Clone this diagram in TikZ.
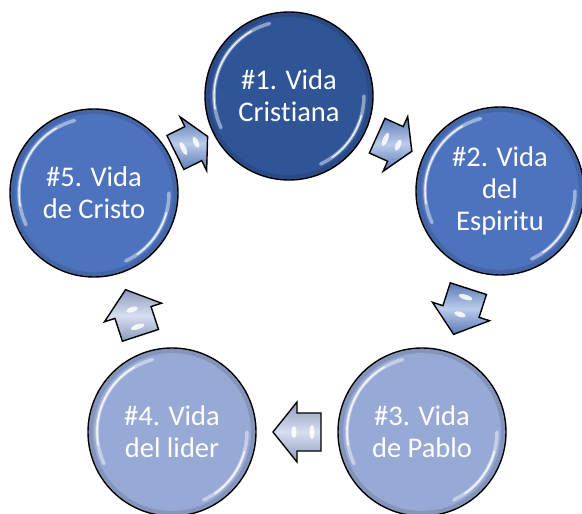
\documentclass[tikz,border=0pt]{standalone}
\usepackage{fontspec}
\setmainfont[Ligatures={NoCommon,NoRare,NoContextual}]{Carlito}
\usetikzlibrary{calc}
\definecolor{cdark}{RGB}{47,85,151}
\definecolor{cmid}{RGB}{78,115,190}
\definecolor{clight}{RGB}{151,169,213}
\definecolor{amid}{RGB}{104,142,212}
\definecolor{alight}{RGB}{166,182,222}
\tikzset{
  bubble/.style={circle, draw=black, line width=1.4pt, minimum size=168pt, inner sep=0pt,
    text=white, align=center, font=\fontsize{28.5}{32}\selectfont},
  bubbletext/.style={text=white, align=center, font=\fontsize{28.5}{32}\selectfont},
  gloss/.style={white, line width=3.5pt, opacity=0.45, line cap=round},
  glossthin/.style={white, line width=1.3pt, opacity=0.9, line cap=round},
  rim/.style={black, line width=4pt, opacity=0.12},
  pics/blockarrow/.style n args={3}{code={
    \path[draw=black, line width=1.4pt, line join=miter,
      top color=#3!85!black, bottom color=#3!85!black, middle color=#3!45!white]
      (-#1/2,-19) -- (#1/2-#2,-19) -- (#1/2-#2,-30) -- (#1/2,0) -- (#1/2-#2,30)
      -- (#1/2-#2,19) -- (-#1/2,19) -- cycle;
    \fill[white, opacity=0.85] (#1/2-#2+3,0) ellipse [x radius=2.5, y radius=6];
    \fill[white, opacity=0.85] (-#1/2+9,0) ellipse [x radius=2.5, y radius=7];
  }}
}
\newcommand\glossit[1]{%
  \draw[rim] (#1.center) circle [radius=81];
  \draw[gloss] ($(#1.center)+(-105:75)$) arc[start angle=-105, end angle=-205, radius=75];
  \draw[glossthin] ($(#1.center)+(-120:75)$) arc[start angle=-120, end angle=-190, radius=75];
  \draw[gloss] ($(#1.center)+(65:75)$) arc[start angle=65, end angle=0, radius=75];
  \draw[glossthin] ($(#1.center)+(55:75)$) arc[start angle=55, end angle=15, radius=75];
}
\begin{document}
\begin{tikzpicture}[x=1pt, y=-1pt]
\useasboundingbox (0,0) rectangle (582,514);
\node[bubble, fill=cdark] (c1) at (289,96) {};
\node[bubble, fill=cmid] (c2) at (500,191) {};
\node[bubble, fill=clight] (c3) at (422,432) {};
\node[bubble, fill=clight] (c4) at (172,432) {};
\node[bubble, fill=cmid] (c5) at (94,193) {};
\glossit{c1}\glossit{c2}\glossit{c3}\glossit{c4}\glossit{c5}
\node[bubbletext] (t1) at (c1.center) {\#1. Vida\\Cris\kern0pt t\kern0pt iana};
\node[bubbletext] (t2) at (c2.center) {\#2. Vida\\del\\Espiritu};
\node[bubbletext] (t3) at (c3.center) {\#3. Vida\\de Pablo};
\node[bubbletext] (t4) at (c4.center) {\#4. Vida\\del lider};
\node[bubbletext] (t5) at (c5.center) {\#5. Vida\\de Cristo};
\pic[rotate=-24.2] (a12) at ($(c1.center)!0.5!(c2.center)$) {blockarrow={38}{18}{amid}};
\pic[rotate=-107.9] (a23) at ($(c2.center)!0.5!(c3.center)$) {blockarrow={48}{24}{amid}};
\pic[rotate=180] (a34) at ($(c3.center)!0.5!(c4.center)$) {blockarrow={48}{24}{alight}};
\pic[rotate=108.1] (a45) at ($(c4.center)!0.5!(c5.center)$) {blockarrow={48}{24}{alight}};
\pic[rotate=26.4] (a51) at ($(c5.center)!0.5!(c1.center)$) {blockarrow={36}{16}{amid}};
\end{tikzpicture}
\end{document}
